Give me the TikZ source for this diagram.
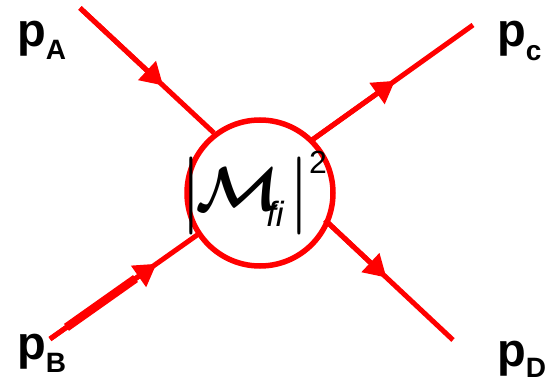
\RequirePackage{fix-cm}
\documentclass[tikz,border=0pt]{standalone}
\usepackage{amsmath,bm}
\DeclareFontShape{OMS}{cmsy}{m}{n}{<->cmsy10}{}
\DeclareFontShape{OMS}{cmsy}{b}{n}{<->cmbsy10}{}
\usepackage{fontspec}
\setmainfont{Liberation Sans}
\usetikzlibrary{arrows.meta,calc}
\begin{document}
\begin{tikzpicture}[x=1pt,y=-1pt,
  leg/.style={draw=red,line width=5pt},
  thickleg/.style={draw=red,line width=8.5pt},
  headed/.style={draw=red,line width=5pt,-{Triangle[length=22pt,width=25pt]},red},
  lbl/.style={inner sep=0pt,anchor=base west,font=\bfseries\fontsize{47}{47}\selectfont},
  blob/.style={circle,draw=red,line width=5.5pt,minimum size=146pt,inner sep=0pt},
  bar/.style={inner sep=0pt,font=\fontsize{78}{78}\selectfont}]
\useasboundingbox (0,0) rectangle (551,382);
% end points
\coordinate (a) at (80,8);
\coordinate (aend) at (214,133);
\coordinate (c) at (473,25);
\coordinate (cend) at (312,140);
\coordinate (d) at (453,340);
\coordinate (dend) at (325,220);
\coordinate (b) at (50,339);
\coordinate (bend) at (200,233);
\coordinate (atip) at ($(a)!0.62!(aend)$);
\coordinate (ctip) at ($(cend)!0.515!(c)$);
\coordinate (dtip) at ($(dend)!0.48!(d)$);
\coordinate (btip) at ($(b)!0.71!(bend)$);
\coordinate (bthick) at ($(b)!0.11!(bend)$);
\coordinate (bthickend) at ($(b)!0.57!(bend)$);
% legs
\draw[leg] (a) -- (aend);
\draw[leg] (c) -- (cend);
\draw[leg] (d) -- (dend);
\draw[leg] (b) -- (bend);
\draw[thickleg] (bthick) -- (bthickend);
\draw[headed] (a) -- (atip);
\draw[headed] (cend) -- (ctip);
\draw[headed] (dend) -- (dtip);
\draw[headed] (b) -- (btip);
% vertex
\node[blob] (M) at (260,193) {};
\node[bar] (lbar) at (191.5,195.5) {$|$};
\node[bar] (rbar) at (299,196) {$|$};
\node[inner sep=0pt,font=\fontsize{62}{62}\selectfont] (Msym) at (238,189) {$\bm{\mathcal{M}}$};
\node[inner sep=0pt,font=\itshape\fontsize{35}{35}\selectfont] (fi) at (275,214) {fi};
\node[inner sep=0pt,font=\fontsize{32}{32}\selectfont] (two) at (318,162) {2};
% labels
\node[lbl] (pA) at (17,47) {p\raisebox{-13pt}{\fontsize{28}{28}\selectfont A}};
\node[lbl] (pB) at (17,359.5) {p\raisebox{-12.5pt}{\fontsize{28}{28}\selectfont B}};
\node[lbl] (pC) at (497,47) {p\raisebox{-14pt}{\fontsize{28}{28}\selectfont c}};
\node[lbl] (pD) at (497,366) {p\raisebox{-11.5pt}{\fontsize{28}{28}\selectfont D}};
\end{tikzpicture}
\end{document}
